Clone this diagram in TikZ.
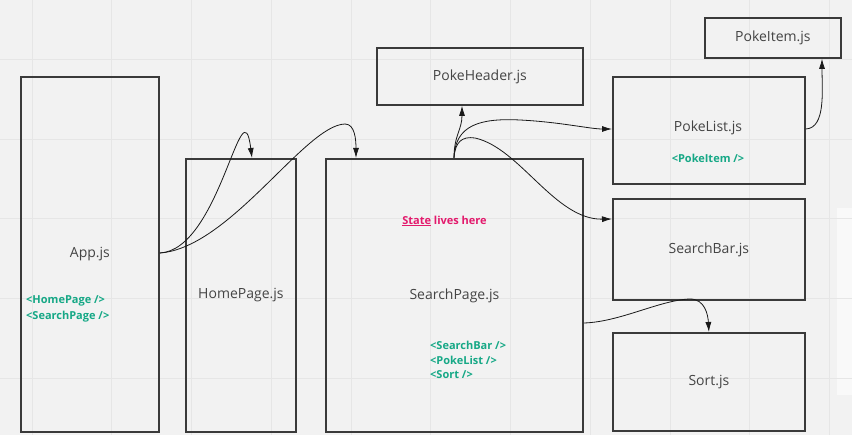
\documentclass[tikz,border=0pt]{standalone}
\usepackage{fontspec}
\setmainfont{Open Sans}
\usetikzlibrary{arrows.meta,calc}
\definecolor{bg}{HTML}{F2F2F2}
\definecolor{gridc}{HTML}{E6E6E6}
\definecolor{boxc}{HTML}{3A3A3A}
\definecolor{txt}{HTML}{444444}
\definecolor{grn}{HTML}{16A886}
\definecolor{mag}{HTML}{E3196C}
\tikzset{
  box/.style={draw=boxc, line width=1.8pt, anchor=north west, inner sep=0pt,
    font=\fontsize{14}{16}\selectfont, text=txt},
  tagtxt/.style={font=\fontsize{11}{12}\selectfont\bfseries, text=grn, inner sep=0pt},
  conn/.style={draw=black!90, line width=0.8pt, -{Latex[length=10pt,width=6pt]}}
}
\begin{document}
\begin{tikzpicture}[x=1pt,y=-1pt]
\useasboundingbox (0,0) rectangle (852,435);
\fill[bg] (0,0) rectangle (852,435);
\fill[white!50!bg] (837,208) rectangle (852,395);
% grid
\foreach \gx in {32,111.75,191.5,271.25,351,430.75,510.5,590.25,670,749.75,829.5}
  \draw[gridc, line width=0.8pt] (\gx,0) -- (\gx,435);
\foreach \gy in {59,139,218,298,378}
  \draw[gridc, line width=0.8pt] (0,\gy) -- (852,\gy);

% boxes
\node[box, minimum width=138pt, minimum height=355pt] (app) at (20,76) {App.js};
\node[box, minimum width=110pt, minimum height=273pt] (home) at (185,158) {HomePage.js};
\node[box, minimum width=257pt, minimum height=273pt] (search) at (325,158) {SearchPage.js};
\node[box, minimum width=206pt, minimum height=57pt] (header) at (376,47) {PokeHeader.js};
\node[box, minimum width=136pt, minimum height=40pt] (item) at (704,17) {PokeItem.js};
\node[box, minimum width=192pt, minimum height=107pt] (list) at (612,76) {};
\node[font=\fontsize{14}{16}\selectfont, text=txt, inner sep=0pt] (listlbl) at (708,128) {PokeList.js};
\node[box, minimum width=192pt, minimum height=101pt] (bar) at (612,198) {SearchBar.js};
\node[box, minimum width=192pt, minimum height=98pt] (sort) at (612,332) {Sort.js};

% inner texts
\node[tagtxt, anchor=west] (t1) at (26,301) {<HomePage />};
\node[tagtxt, anchor=west] (t2) at (26,317) {<SearchPage />};
\node[tagtxt] (t3) at (708,158) {<PokeItem />};
\node[tagtxt, anchor=west] (t4) at (430,345) {<SearchBar />};
\node[tagtxt, anchor=west] (t5) at (430,360) {<PokeList />};
\node[tagtxt, anchor=west] (t6) at (430,375) {<Sort />};
\node[font=\fontsize{11}{12}\selectfont\bfseries, text=mag, inner sep=0pt] (state) at (444.5,221)
  {\underline{State} lives here};

% connectors
\coordinate (appout) at ($(app.north east)+(0,177)$);
\coordinate (spout) at ($(search.north west)+(129,0)$);
\draw[conn] (appout) .. controls (220,250) and (242,80) .. ($(home.north west)+(67,0)$);
\draw[conn] (appout) .. controls (230,248) and (305,125) .. (345,124)
  .. controls (355,124) and (356,140) .. ($(search.north west)+(31,0)$);
\draw[conn] (spout) .. controls (454,135) and (462,130) .. ($(header.south west)+(86,0)$);
\draw[conn] (spout) .. controls (455,125) and (480,118) .. (520,120)
  .. controls (560,122) and (590,129) .. ($(list.north west)+(0,53)$);
\draw[conn] (spout) .. controls (455,142) and (462,136) .. (475,138)
  .. controls (520,148) and (555,220) .. ($(bar.north west)+(0,21)$);
\draw[conn] ($(search.north east)+(0,165)$) .. controls (620,322) and (660,300) .. (690,299)
  .. controls (705,299) and (708,315) .. (sort.north);
\draw[conn] ($(list.north east)+(0,53)$) .. controls (826,128) and (822,90) .. ($(item.south west)+(118,0)$);
\end{tikzpicture}
\end{document}
